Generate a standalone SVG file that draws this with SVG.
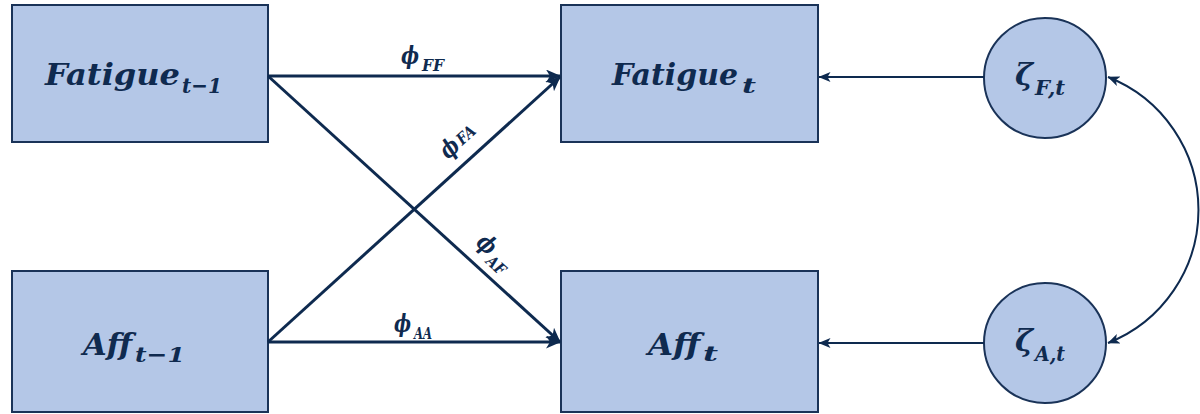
<svg xmlns="http://www.w3.org/2000/svg" width="1200" height="414" viewBox="0 0 1200 414">
<style>
.box{fill:#b4c7e7;stroke:#1a3358;stroke-width:2}
.lbl{font-family:"DejaVu Serif","Liberation Serif",serif;font-weight:bold;font-style:italic;fill:#0f2a4f}
.main{font-size:29px}
.sub{font-size:21px}
.coef{font-size:24px}
.csub{font-size:16px}
.thick{stroke:#0e2a4f;stroke-width:3;fill:none}
.thin{stroke:#0e2a4f;stroke-width:2;fill:none}
</style>
<defs>
<marker id="ah" markerUnits="userSpaceOnUse" markerWidth="15" markerHeight="13" viewBox="0 0 15 13" refX="14" refY="6.5" orient="auto">
<path d="M0,0 L15,6.5 L0,13 L4,6.5 z" fill="#0e2a4f"/>
</marker>
<marker id="as" markerUnits="userSpaceOnUse" markerWidth="12" markerHeight="10" viewBox="0 0 12 10" refX="11.5" refY="5" orient="auto-start-reverse">
<path d="M0,0 L12,5 L0,10 L3,5 z" fill="#0e2a4f"/>
</marker>
</defs>

<g id="fatigue_prev">
<rect class="box" x="12" y="5" width="256" height="137"/>
<text class="lbl main" x="45" y="85" textLength="135" lengthAdjust="spacingAndGlyphs">Fatigue</text>
<text class="lbl sub" x="182" y="93" textLength="40" lengthAdjust="spacingAndGlyphs">t−1</text>
</g>
<g id="aff_prev">
<rect class="box" x="12" y="271" width="256" height="141"/>
<text class="lbl main" x="83" y="355" textLength="49" lengthAdjust="spacingAndGlyphs">Aff</text>
<text class="lbl sub" x="135" y="362" textLength="50" lengthAdjust="spacingAndGlyphs">t−1</text>
</g>
<g id="fatigue_t">
<rect class="box" x="561" y="5" width="257" height="137"/>
<text class="lbl main" x="612" y="85" textLength="126" lengthAdjust="spacingAndGlyphs">Fatigue</text>
<text class="lbl sub" x="742" y="93" textLength="14" lengthAdjust="spacingAndGlyphs">t</text>
</g>
<g id="aff_t">
<rect class="box" x="561" y="271" width="257" height="141"/>
<text class="lbl main" x="648" y="355" textLength="52" lengthAdjust="spacingAndGlyphs">Aff</text>
<text class="lbl sub" x="703" y="361" textLength="15" lengthAdjust="spacingAndGlyphs">t</text>
</g>
<g id="zeta_f">
<ellipse class="box" cx="1045" cy="78" rx="61" ry="60"/>
<text class="lbl main" x="1015" y="85" textLength="18" lengthAdjust="spacingAndGlyphs">ζ</text>
<text class="lbl sub" x="1035" y="95" textLength="30" lengthAdjust="spacingAndGlyphs">F,t</text>
</g>
<g id="zeta_a">
<ellipse class="box" cx="1045" cy="343" rx="61" ry="60"/>
<text class="lbl main" x="1015" y="351" textLength="18" lengthAdjust="spacingAndGlyphs">ζ</text>
<text class="lbl sub" x="1035" y="361" textLength="30" lengthAdjust="spacingAndGlyphs">A,t</text>
</g>

<g id="connectors">
<line class="thick" x1="268" y1="76" x2="560" y2="76" marker-end="url(#ah)"/>
<line class="thick" x1="268" y1="342" x2="560" y2="342" marker-end="url(#ah)"/>
<line class="thick" x1="268" y1="76" x2="560" y2="342" marker-end="url(#ah)"/>
<line class="thick" x1="268" y1="342" x2="560" y2="77" marker-end="url(#ah)"/>
<line class="thin" x1="984" y1="77" x2="819" y2="77" marker-end="url(#as)"/>
<line class="thin" x1="984" y1="343" x2="819" y2="343" marker-end="url(#as)"/>
<path class="thin" d="M1108,77 A143,143 0 0 1 1108,343" marker-start="url(#as)" marker-end="url(#as)"/>
</g>

<g id="labels">
<text class="lbl coef" x="401" y="64" textLength="18" lengthAdjust="spacingAndGlyphs">ϕ</text>
<text class="lbl csub" x="422" y="71" textLength="22" lengthAdjust="spacingAndGlyphs">FF</text>
<text class="lbl coef" x="394" y="332" textLength="17" lengthAdjust="spacingAndGlyphs">ϕ</text>
<text class="lbl csub" x="414" y="339" textLength="18" lengthAdjust="spacingAndGlyphs">AA</text>
<g transform="translate(448,160) rotate(-42.2)">
<text class="lbl coef" x="0" y="0" textLength="18" lengthAdjust="spacingAndGlyphs">ϕ</text>
<text class="lbl csub" x="20" y="-1" textLength="20" lengthAdjust="spacingAndGlyphs">FA</text>
</g>
<g transform="translate(475,244) rotate(42.2)">
<text class="lbl coef" x="0" y="0" textLength="18" lengthAdjust="spacingAndGlyphs">ϕ</text>
<text class="lbl csub" x="20" y="7" textLength="20" lengthAdjust="spacingAndGlyphs">AF</text>
</g>
</g>
</svg>
